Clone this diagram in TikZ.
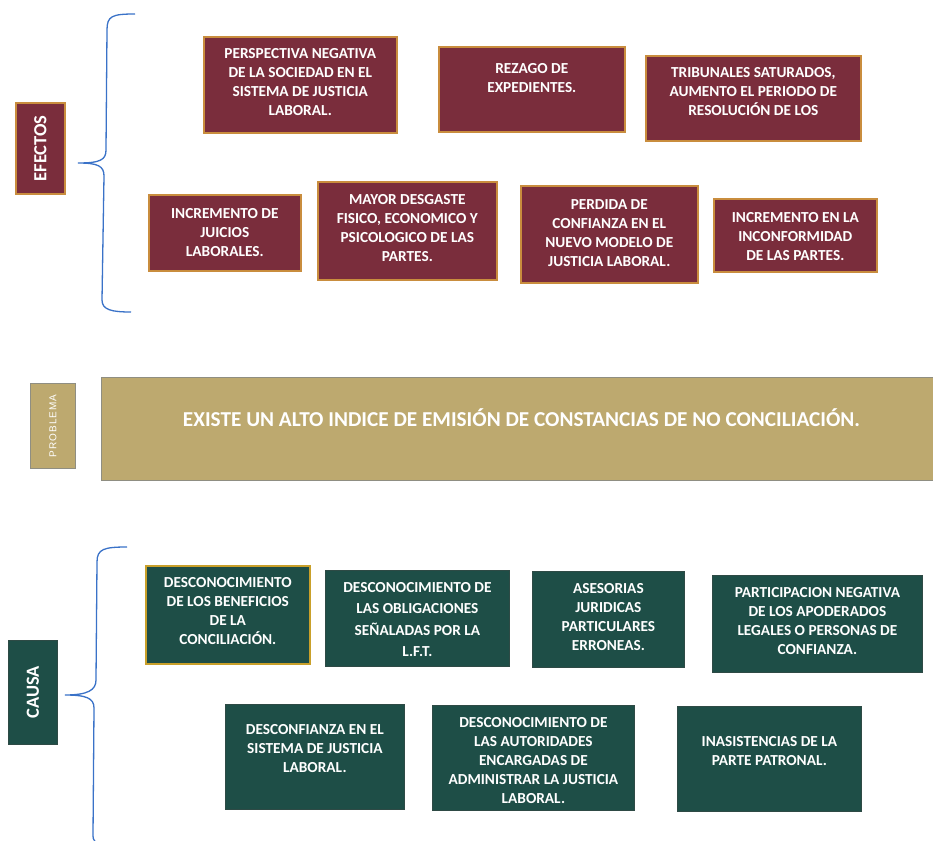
\documentclass[tikz,border=0pt]{standalone}
\usepackage{fontspec}
\setmainfont{Carlito}
\newfontfamily\probfont{Liberation Sans}
\usetikzlibrary{calc}
\definecolor{maroon}{HTML}{7A2D3C}
\definecolor{tanborder}{HTML}{C98D3E}
\definecolor{dgreen}{HTML}{1E4E47}
\definecolor{gborder}{HTML}{2E4A45}
\definecolor{goldb}{HTML}{C9A02A}
\definecolor{khaki}{HTML}{BDA96F}
\definecolor{khakib}{HTML}{8F8E82}
\definecolor{braceblue}{HTML}{3A72C8}
\tikzset{
  ebox/.style={draw=tanborder, line width=1.6pt, fill=maroon, rectangle, inner sep=0pt, anchor=north west},
  cbox/.style={draw=gborder, line width=0.8pt, fill=dgreen, rectangle, inner sep=0pt, anchor=north west},
  btext/.style={text=white, font=\bfseries\fontsize{15.3}{19}\selectfont, align=center, inner sep=0pt, anchor=north},
  vlabel/.style={text=white, font=\bfseries\fontsize{18.5}{20}\selectfont, rotate=90, inner sep=0pt},
  brace/.style={draw=braceblue, line width=1.3pt},
}
\begin{document}
\begin{tikzpicture}[x=1pt,y=-1pt]
\useasboundingbox[fill=white] (0,0) rectangle (933,840);
% ---------- EFECTOS ----------
\node[ebox, minimum width=49pt, minimum height=91pt] (efl) at (15,102) {};
\node[vlabel] (eflt) at (efl.center) {EFECTOS};
\coordinate (eb1) at (135,14);
\coordinate (eb2) at (78,163);
\coordinate (eb3) at (131,312);
\path[brace] (eb1) .. controls (112,14) and (107,16) .. (107,30) -- (106,150)
  .. controls (106,160) and (100,163) .. (eb2)
  .. controls (98,163) and (104,166) .. (104,176) -- (102,300)
  .. controls (102,310) and (112,312) .. (eb3);

\node[ebox, minimum width=193pt, minimum height=96pt] (e1) at (203,36) {};
\node[btext] (e1t) at ($(e1.north)+(0,12)$) {PERSPECTIVA NEGATIVA\\DE LA SOCIEDAD EN EL\\SISTEMA DE JUSTICIA\\LABORAL.};
\node[ebox, minimum width=186pt, minimum height=85pt] (e2) at (438,46) {};
\node[btext] (e2t) at ($(e2.north)+(0,17)$) {REZAGO DE\\EXPEDIENTES.};
\node[ebox, minimum width=215pt, minimum height=85pt] (e3) at (645,55) {};
\node[btext] (e3t) at ($(e3.north)+(0,12)$) {TRIBUNALES SATURADOS,\\AUMENTO EL PERIODO DE\\RESOLUCIÓN DE LOS};
\node[ebox, minimum width=152pt, minimum height=76pt] (e4) at (148,194) {};
\node[btext] (e4t) at ($(e4.north)+(0,14)$) {INCREMENTO DE\\JUICIOS\\LABORALES.};
\node[ebox, minimum width=179pt, minimum height=98pt] (e5) at (317,181) {};
\node[btext] (e5t) at ($(e5.north)+(0,13)$) {MAYOR DESGASTE\\FISICO, ECONOMICO Y\\PSICOLOGICO DE LAS\\PARTES.};
\node[ebox, minimum width=177pt, minimum height=97pt] (e6) at (520,185) {};
\node[btext] (e6t) at ($(e6.north)+(0,14)$) {PERDIDA DE\\CONFIANZA EN EL\\NUEVO MODELO DE\\JUSTICIA LABORAL.};
\node[ebox, minimum width=163pt, minimum height=73pt] (e7) at (713,198) {};
\node[btext] (e7t) at ($(e7.north)+(0,14)$) {INCREMENTO EN LA\\INCONFORMIDAD\\DE LAS PARTES.};

% ---------- PROBLEMA ----------
\node[draw=khakib, line width=1pt, fill=khaki, minimum width=45pt, minimum height=85pt, inner sep=0pt, anchor=north west] (pl) at (30,383) {};
\node[text=white, font=\probfont\fontsize{10}{12}\selectfont, rotate=90, inner sep=0pt] (plt) at (pl.center) {P\kern1.1pt R\kern1.1pt O\kern1.1pt B\kern1.1pt L\kern1.1pt E\kern1.1pt M\kern1.1pt A};
\node[draw=khakib, line width=1.2pt, fill=khaki, minimum width=840pt, minimum height=103pt, inner sep=0pt, anchor=north west] (pb) at (101,377) {};
\node[text=white, inner sep=0pt, anchor=center] (pbt) at (521.5,418) {\resizebox{677pt}{!}{\bfseries\fontsize{22}{26}\selectfont EXISTE UN ALTO INDICE DE EMISIÓN DE CONSTANCIAS DE NO CONCILIACIÓN.}};

% ---------- CAUSA ----------
\node[cbox, minimum width=49pt, minimum height=104pt] (cl) at (8,640) {};
\node[vlabel] (clt) at (cl.center) {CAUSA};
\coordinate (cb1) at (127,547);
\coordinate (cb2) at (65,695);
\coordinate (cb3) at (100,845);
\path[brace] (cb1) .. controls (104,547) and (97,549) .. (97,562) -- (96,680)
  .. controls (96,690) and (88,695) .. (cb2)
  .. controls (86,695) and (94,698) .. (94,708) -- (93,836)
  .. controls (93,840) and (95,842) .. (cb3);

\node[cbox, draw=goldb, line width=1.6pt, minimum width=164pt, minimum height=98pt] (c1) at (145,565) {};
\node[btext] (c1t) at ($(c1.north)+(0,12)$) {DESCONOCIMIENTO\\DE LOS BENEFICIOS\\DE LA\\CONCILIACIÓN.};
\node[cbox, minimum width=184pt, minimum height=96pt] (c2) at (325,570) {};
\node[btext, font=\bfseries\fontsize{15.3}{21.5}\selectfont] (c2t) at ($(c2.north)+(0,12)$) {DESCONOCIMIENTO DE\\LAS OBLIGACIONES\\SEÑALADAS POR LA\\L.F.T.};
\node[cbox, minimum width=152pt, minimum height=96pt] (c3) at (532,571) {};
\node[btext] (c3t) at ($(c3.north)+(0,12)$) {ASESORIAS\\JURIDICAS\\PARTICULARES\\ERRONEAS.};
\node[cbox, minimum width=210pt, minimum height=97pt] (c4) at (712,575) {};
\node[btext] (c4t) at ($(c4.north)+(0,12)$) {PARTICIPACION NEGATIVA\\DE LOS APODERADOS\\LEGALES O PERSONAS DE\\CONFIANZA.};
\node[cbox, minimum width=179pt, minimum height=105pt] (c5) at (225,704) {};
\node[btext] (c5t) at ($(c5.north)+(0,20)$) {DESCONFIANZA EN EL\\SISTEMA DE JUSTICIA\\LABORAL.};
\node[cbox, minimum width=202pt, minimum height=105pt] (c6) at (432,705) {};
\node[btext] (c6t) at ($(c6.north)+(0,12)$) {DESCONOCIMIENTO DE\\LAS AUTORIDADES\\ENCARGADAS DE\\ADMINISTRAR LA JUSTICIA\\LABORAL.};
\node[cbox, minimum width=184pt, minimum height=105pt] (c7) at (677,706) {};
\node[btext] (c7t) at ($(c7.north)+(0,30)$) {INASISTENCIAS DE LA\\PARTE PATRONAL.};
\end{tikzpicture}
\end{document}
